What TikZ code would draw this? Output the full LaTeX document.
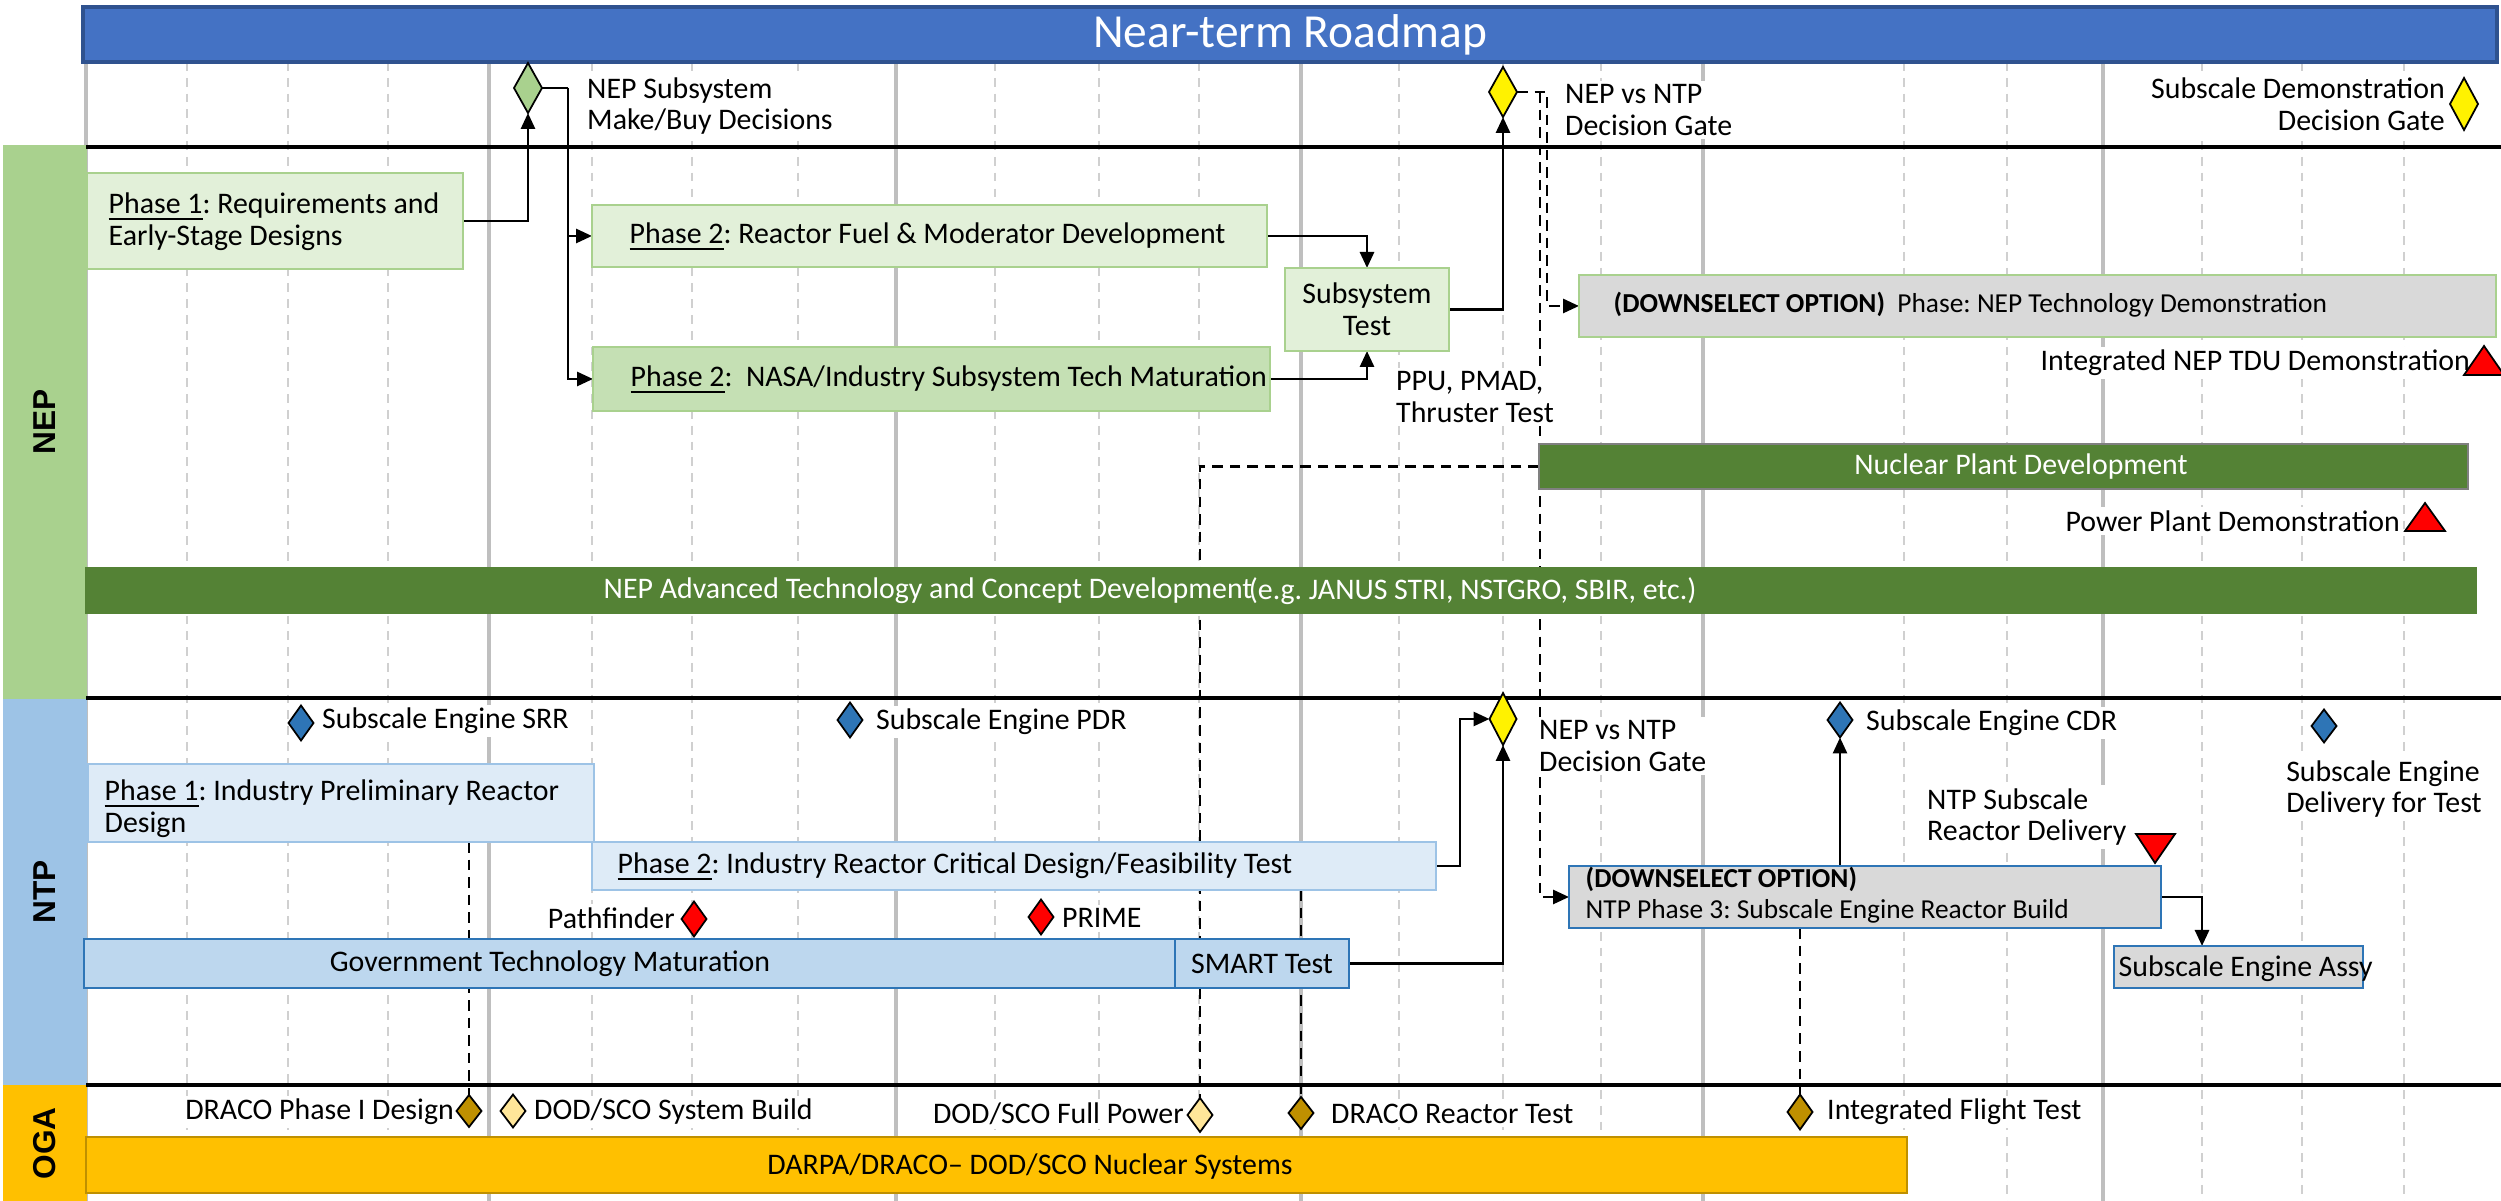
\documentclass[tikz,border=0pt]{standalone}
\usepackage{fontspec}
\setmainfont{Carlito}
\newfontfamily\lanefont{Liberation Sans}
\usetikzlibrary{shapes.geometric,arrows.meta}
\pgfdeclarelayer{grid}
\pgfdeclarelayer{links}
\pgfdeclarelayer{top}
\pgfsetlayers{grid,links,main,top}
\frenchspacing
\definecolor{hdrblue}{HTML}{4472C4}
\definecolor{hdrline}{HTML}{2F528F}
\definecolor{nepgreen}{HTML}{A9D18E}
\definecolor{neplight}{HTML}{E2F0D9}
\definecolor{nepmid}{HTML}{C5E0B4}
\definecolor{nepdark}{HTML}{548235}
\definecolor{ntpblue}{HTML}{9DC3E6}
\definecolor{ntplight}{HTML}{DEEBF7}
\definecolor{ntpmid}{HTML}{BDD7EE}
\definecolor{ntpline}{HTML}{2E75B6}
\definecolor{ogagold}{HTML}{FFC000}
\definecolor{ogadark}{HTML}{BF9000}
\definecolor{ogalight}{HTML}{FFE699}
\definecolor{optgray}{HTML}{D9D9D9}
\definecolor{gridgray}{HTML}{BFBFBF}
\definecolor{gridlight}{HTML}{D0D0D0}
\begin{document}
\begin{tikzpicture}[x=0.1mm,y=-0.1mm,
  font=\fontsize{8.5}{9}\selectfont,
  box/.style={draw,rectangle,anchor=north west,inner sep=0pt,outer sep=0pt,line width=0.75pt},
  txt/.style={inner sep=0pt,align=left},
  smalltxt/.style={txt,font=\fontsize{7.8}{9}\selectfont},
  lbl/.style={fill=white,inner sep=1pt,align=left},
  lane/.style={rectangle,anchor=north west,inner sep=0pt,minimum width=8.4mm},
  lanelbl/.style={rotate=90,font=\lanefont\bfseries\fontsize{9}{10}\selectfont},
  ms/.style={diamond,draw=black,line width=0.5pt,inner sep=0pt,outer sep=0pt,minimum width=2.5mm,minimum height=3.5mm},
  tri/.style={draw=black,fill=red,line width=0.5pt},
  link/.style={line width=0.8pt},
  dlink/.style={line width=0.8pt,dash pattern=on 3pt off 2pt},
  arr/.style={-{Triangle[length=1.6mm,width=1.4mm]}}]
\useasboundingbox (0,0) rectangle (2501,1201);

\begin{pgfonlayer}{grid}
\foreach \gx in {86,489,896,1301,1703,2103}
  \draw[gridgray,line width=1pt] (\gx,62) -- (\gx,1201);
\foreach \gx in {187,288,388,592,692,798,995,1099,1199,1399,1503,1601,1904,2007,2202,2302,2404}
  \draw[gridlight,line width=0.6pt,dash pattern=on 2.5pt off 2pt] (\gx,62) -- (\gx,1201);
\end{pgfonlayer}

% header and lanes
\node[box,fill=hdrblue,draw=hdrline,line width=1pt,minimum width=241.4mm,minimum height=5.5mm,
  text=white,font=\fontsize{13.5}{15}\selectfont] (title) at (83,7) {Near-term Roadmap};
\node[lane,fill=nepgreen,minimum height=55.4mm] (nep) at (2,144) {};
\node[lane,fill=ntpblue,minimum height=38.6mm] (ntp) at (2,698) {};
\node[lane,fill=ogagold,minimum height=11.7mm] (oga) at (2,1084) {};
\node[lanelbl] (neptxt) at (nep.center) {NEP};
\node[lanelbl] (ntptxt) at (ntp.center) {NTP};
\node[lanelbl] (ogatxt) at (oga.center) {OGA};
\draw[line width=1pt] (86,147) -- (2501,147);
\draw[line width=1pt] (86,698) -- (2501,698);
\draw[line width=1pt] (86,1085) -- (2501,1085);

% NEP
\node[box,fill=neplight,draw=nepgreen,minimum width=37.6mm,minimum height=9.6mm] (p1nep) at (87,173) {};
\node[txt,anchor=west] (p1neptxt) at (108,222) {\underline{Phase 1}: Requirements and\\Early-Stage Designs};
\node[box,fill=neplight,draw=nepgreen,minimum width=67.5mm,minimum height=6.2mm] (p2fuel) at (592,205) {};
\node[txt,anchor=west] (p2fueltxt) at (629,237) {\underline{Phase 2}: Reactor Fuel \& Moderator Development};
\node[box,fill=nepmid,draw=nepgreen,minimum width=67.7mm,minimum height=6.4mm] (p2nasa) at (593,347) {};
\node[txt,anchor=west] (p2nasatxt) at (630,380) {\underline{Phase 2}:\ \ NASA/Industry Subsystem Tech Maturation};
\node[box,fill=neplight,draw=nepgreen,minimum width=16.4mm,minimum height=8.3mm,align=center] (subtest) at (1285,268) {Subsystem\\Test};
\node[box,fill=optgray,draw=nepgreen,minimum width=91.7mm,minimum height=6.2mm] (dsnep) at (1579,275) {};
\node[smalltxt,anchor=west] (dsneptxt) at (1613,305) {\textbf{(DOWNSELECT OPTION)}\ \ Phase: NEP Technology Demonstration};
\node[box,fill=nepdark,draw=gray,minimum width=92.9mm,minimum height=4.5mm] (nucplant) at (1539,444) {};
\node[txt,text=white] (nucplanttxt) at (2021,467) {Nuclear Plant Development};
\node[box,fill=nepdark,draw=none,minimum width=239.2mm,minimum height=4.7mm] (nepadv) at (85,567) {};
\node[txt,text=white,anchor=west] (nepadvtxt) at (603,591) {NEP Advanced Technology and Concept Development};
\node[txt,text=white,anchor=east] (nepadvex) at (1697,591) {(e.g. JANUS STRI, NSTGRO, SBIR, etc.)};

% NTP
\node[box,fill=ntplight,draw=ntpblue,minimum width=50.6mm,minimum height=7.8mm] (p1ntp) at (88,764) {};
\node[txt,anchor=west] (p1ntptxt) at (104,809) {\underline{Phase 1}: Industry Preliminary Reactor\\Design};
\node[box,fill=ntplight,draw=ntpblue,minimum width=84.4mm,minimum height=4.8mm] (p2ntp) at (592,842) {};
\node[txt,anchor=west] (p2ntptxt) at (617,867) {\underline{Phase 2}: Industry Reactor Critical Design/Feasibility Test};
\node[box,fill=ntpmid,draw=ntpline,minimum width=109.1mm,minimum height=4.9mm] (govtech) at (84,939) {};
\node[txt] (govtxt) at (550,964) {Government Technology Maturation};
\node[box,fill=ntpmid,draw=ntpline,minimum width=17.4mm,minimum height=4.9mm] (smart) at (1175,939) {SMART Test};
\node[box,fill=optgray,draw=ntpline,minimum width=59.2mm,minimum height=6.2mm] (dsntp) at (1569,866) {};
\node[smalltxt,anchor=west] (dsntptxt) at (1585,895) {\textbf{(DOWNSELECT OPTION)}\\NTP Phase 3: Subscale Engine Reactor Build};
\node[box,fill=optgray,draw=ntpline,minimum width=24.9mm,minimum height=4.2mm] (assy) at (2114,946) {};
\node[txt,anchor=west] (assytxt) at (2118,969) {Subscale Engine Assy};

% OGA
\node[box,fill=ogagold,draw=ogadark,line width=0.5pt,minimum width=182.1mm,minimum height=5.6mm] (darpa) at (86,1137) {};
\node[txt] (darpatxt) at (1030,1167) {DARPA/DRACO-- DOD/SCO Nuclear Systems};

% milestone labels
\node[lbl,anchor=west] (mkbuylbl) at (583,106) {NEP Subsystem\\Make/Buy Decisions};
\node[lbl,anchor=west] (gatenepl) at (1561,110) {NEP vs NTP\\Decision Gate};
\node[lbl,anchor=east,align=right] (subdemol) at (2449,104) {Subscale Demonstration\\Decision Gate};
\node[lbl,anchor=west] (ppul) at (1392,397) {PPU, PMAD,\\Thruster Test};
\node[lbl,anchor=east] (tdul) at (2474,363) {Integrated NEP TDU Demonstration};
\node[lbl,anchor=east] (ppdl) at (2404,521) {Power Plant Demonstration};
\node[lbl,anchor=west] (srrl) at (318,721) {Subscale Engine SRR};
\node[lbl,anchor=west] (pdrl) at (872,722) {Subscale Engine PDR};
\node[lbl,anchor=west] (cdrl) at (1862,723) {Subscale Engine CDR};
\node[lbl,anchor=west] (gatentpl) at (1535,746) {NEP vs NTP\\Decision Gate};
\node[lbl,anchor=west] (dlvl) at (2282,789) {Subscale Engine\\Delivery for Test};
\node[lbl,anchor=west] (rdlvl) at (1923,817) {NTP Subscale\\Reactor Delivery};
\node[lbl,anchor=east] (pathl) at (679,918) {Pathfinder};
\node[lbl,anchor=west] (primel) at (1058,918) {PRIME};
\node[lbl,anchor=east] (dracol) at (458,1112) {DRACO Phase I Design};
\node[lbl,anchor=west] (sysbl) at (530,1112) {DOD/SCO System Build};
\node[lbl,anchor=east] (fullpl) at (1188,1114) {DOD/SCO Full Power};
\node[lbl,anchor=west] (rtestl) at (1327,1114) {DRACO Reactor Test};
\node[lbl,anchor=west] (flightl) at (1823,1112) {Integrated Flight Test};

% milestones
\begin{pgfonlayer}{top}
\node[ms,fill=nepgreen,minimum width=2.8mm,minimum height=5mm] (mkbuy) at (528,88) {};
\node[ms,fill=yellow,minimum width=2.8mm,minimum height=5mm] (gatenep) at (1503,92) {};
\node[ms,fill=yellow,minimum width=2.8mm,minimum height=5.2mm] (subdemo) at (2464,104) {};
\node[ms,fill=ntpline] (srr) at (301,723) {};
\node[ms,fill=ntpline] (pdr) at (850,720) {};
\node[ms,fill=ntpline] (cdr) at (1840,720) {};
\node[ms,fill=ntpline,minimum height=3.3mm] (dlv) at (2324,726) {};
\node[ms,fill=yellow,minimum width=2.7mm,minimum height=5.2mm] (gatentp) at (1503,719) {};
\node[ms,fill=red] (path) at (694,919) {};
\node[ms,fill=red] (prime) at (1041,917) {};
\node[ms,fill=ogadark,minimum height=3.2mm] (draco) at (469,1111) {};
\node[ms,fill=ogalight,minimum height=3.3mm] (sysb) at (513,1111) {};
\node[ms,fill=ogalight,minimum height=3.4mm] (fullp) at (1200,1115) {};
\node[ms,fill=ogadark,minimum height=3.2mm] (rtest) at (1301,1113) {};
\node[ms,fill=ogadark] (flight) at (1800,1112) {};
\filldraw[tri] (2464,375) -- (2484,346) -- (2504,375) -- cycle;
\filldraw[tri] (2405,531) -- (2425,503) -- (2445,531) -- cycle;
\filldraw[tri] (2136,834) -- (2155,863) -- (2175,834) -- cycle;
\end{pgfonlayer}

% connectors
\begin{pgfonlayer}{links}
\coordinate (mbturn) at (568,88);
\coordinate (gturn) at (1547,92);
\coordinate (gdrop) at (1540,92);
\coordinate (p2bend) at (1460,719);
\coordinate (assyin) at (2202,946);
\draw[link,arr] (p1nep.east) -| (mkbuy.south);
\draw[link] (mkbuy.east) -- (mbturn);
\draw[link,arr] (mbturn) |- (p2fuel.west);
\draw[link,arr] (mbturn) |- (p2nasa.west);
\draw[link,arr] (p2fuel.east) -| (subtest.north);
\draw[link,arr] (p2nasa.east) -| (subtest.south);
\draw[link,arr] (subtest.east) -| (gatenep.south);
\draw[dlink,arr] (gatenep.east) -- (gturn) |- (dsnep.west);
\draw[dlink,arr] (gdrop) |- (dsntp.west);
\draw[dlink] (nucplant.west) -| (fullp.north);
\draw[dlink] (p1ntp.south -| draco.north) -- (draco.north);
\draw[dlink] (p2ntp.south -| rtest.north) -- (rtest.north);
\draw[dlink] (dsntp.south -| flight.north) -- (flight.north);
\draw[link,arr] (p2ntp.east) -| (p2bend) -- (gatentp.west);
\draw[link,arr] (smart.east) -| (gatentp.south);
\draw[link,arr] (dsntp.north -| cdr.south) -- (cdr.south);
\draw[link,arr] (dsntp.east) -| (assyin);
\end{pgfonlayer}
\end{tikzpicture}
\end{document}
